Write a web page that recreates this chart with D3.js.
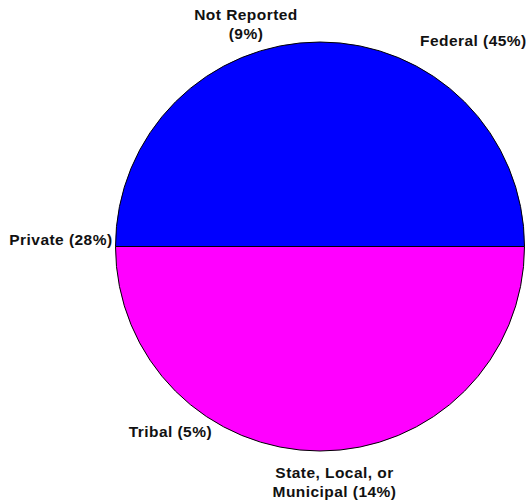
<!DOCTYPE html>
<html>
<head>
<meta charset="utf-8">
<script src="https://cdn.jsdelivr.net/npm/d3@7"></script>
<style>
  html, body { margin: 0; padding: 0; background: #fff; }
  svg { display: block; }
  .lbl { font-family: "Liberation Sans", Arial, sans-serif; font-weight: bold; font-size: 15.5px; letter-spacing: 0.45px; fill: #111; }
</style>
</head>
<body>
<svg id="chart" width="530" height="501"></svg>
<script>
// Ownership categories and their reported shares (percent)
const categories = ["Federal", "Not Reported", "Private", "Tribal", "State, Local, or Municipal"];
const shares = [45, 9, 28, 5, 14];

// Filled regions of the pie: upper and lower halves
const regionNames = ["upper", "lower"];
const regionValues = [1, 1];
const regionColors = ["#0000ff", "#ff00ff"];

const cx = 320, cy = 246.5, R = 204.5;

const svg = d3.select("#chart");
const g = svg.append("g").attr("transform", `translate(${cx},${cy})`);

const pie = d3.pie().sort(null).value(d => d.v)
  .startAngle(-Math.PI / 2).endAngle(1.5 * Math.PI);
const arc = d3.arc().innerRadius(0).outerRadius(R);

const regions = regionNames.map((n, i) => ({ name: n, v: regionValues[i], color: regionColors[i] }));

g.selectAll("path.slice")
  .data(pie(regions))
  .join("path")
  .attr("class", "slice")
  .attr("d", arc)
  .attr("fill", d => d.data.color)
  .attr("stroke", "#000")
  .attr("stroke-width", 1);

// Label placement around the pie (offsets from centre, text anchor)
const labelLayout = {
  "Federal":                    { dx: 100, dy: -200.5, anchor: "start" },
  "Not Reported":               { dx: -74, dy: -226.5, anchor: "middle" },
  "Private":                    { dx: -207.5, dy: -1.5, anchor: "end" },
  "Tribal":                     { dx: -108, dy: 190, anchor: "end" },
  "State, Local, or Municipal": { dx: 14.5, dy: 231.5, anchor: "middle" }
};

const labelLines = (name, pct) => {
  if (name === "Not Reported") return ["Not Reported", `(${pct}%)`];
  if (name === "State, Local, or Municipal") return ["State, Local, or", `Municipal (${pct}%)`];
  return [`${name} (${pct}%)`];
};

categories.forEach((name, i) => {
  const L = labelLayout[name];
  const lines = labelLines(name, shares[i]);
  const t = g.append("text")
    .attr("class", "lbl")
    .attr("text-anchor", L.anchor)
    .attr("x", L.dx)
    .attr("y", L.dy);
  lines.forEach((ln, j) => {
    t.append("tspan")
      .attr("x", L.dx)
      .attr("dy", j === 0 ? 0 : 18.5)
      .text(ln);
  });
});
</script>
</body>
</html>
